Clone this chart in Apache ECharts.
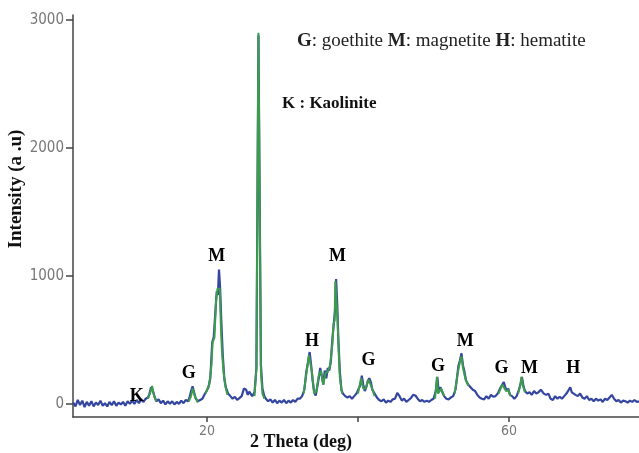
<!DOCTYPE html>
<html>
<head>
<meta charset="utf-8">
<script src="https://cdn.jsdelivr.net/npm/echarts@6/dist/echarts.min.js"></script>
<style>
html,body{margin:0;padding:0;background:#fff;}
#chart{width:639px;height:453px;}
</style>
</head>
<body>
<div id="chart"></div>
<script>
// Raw XRD scan (blue): 2-theta (deg) and intensity (a.u.)
const thetaRaw = [
 2.3,2.6,2.9,3.2,3.5,3.8,4.1,4.4,4.7,5.0,5.3,5.6,5.9,6.2,6.5,6.8,7.1,7.4,7.7,8.0,
 8.3,8.6,8.9,9.2,9.5,9.8,10.1,10.4,10.7,11.0,11.3,11.6,11.9,12.2,12.4,12.6,12.75,12.9,13.1,13.3,
 13.6,13.9,14.2,14.5,14.8,15.1,15.4,15.7,16.0,16.3,16.6,16.9,17.2,17.5,17.7,17.9,18.1,18.3,18.5,18.8,
 19.1,19.4,19.7,19.95,20.2,20.45,20.7,20.9,21.1,21.3,21.45,21.6,21.75,21.9,22.1,22.3,22.5,22.8,23.1,23.4,
 23.7,24.0,24.3,24.6,24.9,25.2,25.4,25.6,25.8,26.0,26.3,26.55,26.82,26.98,27.15,27.35,27.6,27.8,28.1,28.4,
 28.7,29.0,29.3,29.6,29.9,30.2,30.5,30.8,31.1,31.4,31.7,32.0,32.3,32.6,32.9,33.15,33.4,33.6,33.8,34.0,
 34.2,34.4,34.6,34.8,35.0,35.2,35.4,35.6,35.8,36.0,36.2,36.4,36.6,36.8,36.95,37.1,37.25,37.4,37.6,37.8,
 38.0,38.3,38.6,38.9,39.2,39.5,39.8,40.1,40.35,40.5,40.7,40.9,41.1,41.3,41.5,41.7,41.9,42.2,42.5,42.8,
 43.1,43.4,43.7,44.0,44.3,44.6,44.9,45.2,45.5,45.8,46.1,46.4,46.7,47.0,47.3,47.6,47.9,48.2,48.5,48.8,
 49.1,49.4,49.7,50.0,50.3,50.5,50.7,50.9,51.1,51.4,51.7,52.0,52.3,52.6,52.9,53.1,53.3,53.5,53.7,53.9,
 54.1,54.3,54.6,54.9,55.2,55.5,55.8,56.1,56.4,56.7,57.0,57.3,57.6,57.9,58.2,58.5,58.8,59.1,59.3,59.5,
 59.7,59.9,60.1,60.4,60.7,61.0,61.3,61.5,61.7,61.9,62.1,62.4,62.7,63.0,63.3,63.6,63.9,64.2,64.4,64.6,
 64.9,65.2,65.5,65.8,66.1,66.4,66.7,67.0,67.3,67.6,67.85,68.1,68.3,68.5,68.8,69.1,69.4,69.7,70.0,70.3,
 70.6,70.9,71.2,71.5,71.8,72.1,72.4,72.7,73.0,73.3,73.6,73.9,74.2,74.5,74.8,75.1,75.4,75.7,76.0,76.3,
 76.6,76.9,77.2
];
const intensityRaw = [
 10,-20,30,-10,25,-25,15,-15,20,-20,10,-10,25,-15,5,-20,15,-10,20,-15,
 10,-5,15,-15,20,0,25,0,30,5,35,15,40,50,80,130,145,90,50,20,
 35,5,25,-5,20,0,20,-5,15,0,25,5,30,20,50,100,137,90,45,20,
 30,40,75,100,130,200,480,520,700,880,850,1050,900,650,380,200,130,80,60,40,
 55,30,45,60,120,110,70,95,80,60,90,280,2880,2880,300,120,60,40,20,35,
 10,30,5,25,10,30,5,25,10,30,15,40,40,60,110,250,330,405,300,180,
 90,65,130,200,280,220,150,260,200,280,260,330,500,630,720,975,780,500,250,110,
 80,60,50,60,40,60,80,120,150,220,150,100,130,180,200,170,110,80,50,30,
 20,35,10,25,15,35,40,85,60,25,40,15,30,45,70,65,40,20,30,15,
 25,15,30,40,100,210,90,130,100,60,40,35,50,60,110,200,300,340,395,300,
 250,180,150,130,110,100,70,50,40,35,60,40,70,55,60,80,120,150,170,130,
 100,120,70,60,40,60,110,150,210,140,100,80,90,70,100,80,90,110,120,80,
 70,80,40,30,60,40,55,40,60,80,90,130,90,100,70,60,80,50,40,60,
 30,40,20,40,25,35,15,40,30,50,70,40,20,30,10,25,20,10,25,15,
 30,15,20
];

// Fitted profile (green), peak regions only; '-' breaks the line between peaks
const thetaFit = [
 12.2,12.5,12.75,13.0,13.3,'-',
 17.6,17.9,18.1,18.4,18.8,'-',
 19.8,20.3,20.6,20.75,21.0,21.2,21.4,21.55,21.7,21.85,22.0,22.2,22.4,22.7,'-',
 26.3,26.55,26.82,26.98,27.15,27.35,27.6,'-',
 32.8,33.2,33.5,33.7,33.9,34.2,34.5,34.8,35.1,35.4,35.7,36.0,36.3,36.6,36.75,36.9,37.0,37.15,37.3,37.45,37.6,37.9,'-',
 40.0,40.4,40.7,41.0,41.4,41.8,42.2,'-',
 50.2,50.45,50.6,51.0,51.4,'-',
 52.8,53.2,53.5,53.7,53.9,54.2,54.6,'-',
 58.6,59.1,59.3,59.6,59.9,60.2,'-',
 61.2,61.5,61.65,61.85,62.1
];
const intensityFit = [
 40,90,140,60,20,'-',
 20,60,120,60,10,'-',
 80,150,300,480,520,800,900,910,900,600,400,250,150,70,'-',
 60,280,2900,2900,250,80,40,'-',
 80,250,380,380,250,80,100,220,260,150,240,250,300,460,620,650,960,960,640,400,200,80,'-',
 80,200,120,120,190,130,60,'-',
 40,210,80,120,60,'-',
 80,240,330,370,280,200,140,'-',
 80,150,150,100,110,60,'-',
 80,150,210,140,90
];

// Phase labels placed above peaks
const peakTheta = [10.7, 17.6, 21.3, 33.9, 37.3, 41.4, 50.6, 54.2, 59.0, 62.7, 68.5];
const peakLabelY = [60, 240, 1150, 490, 1150, 340, 290, 490, 275, 275, 280];
const peakPhase = ['K','G','M','H','M','G','G','M','G','M','H'];

// Axis ticks
const xTicks = [20, 40, 60];
const xTickLabels = [20, 60];
const yTicks = [0, 1000, 2000, 3000];

const rawData = thetaRaw.map((t, i) => [t, intensityRaw[i]]);
const fitData = thetaFit.map((t, i) => (t === '-' ? ['-', '-'] : [t, intensityFit[i]]));
const labelData = peakTheta.map((t, i) => [t, peakLabelY[i], peakPhase[i]]);

const serif = '"Liberation Serif","DejaVu Serif",serif';
const narrow = '"Liberation Sans Narrow","DejaVu Sans Condensed","Liberation Sans",sans-serif';

const chart = echarts.init(document.getElementById('chart'), null, {renderer: 'canvas'});
chart.setOption({
  animation: false,
  backgroundColor: '#ffffff',
  grid: {left: 73, right: 0, top: 15, bottom: 36, containLabel: false, outerBoundsMode: 'none'},
  xAxis: {
    type: 'value',
    min: 2.27, max: 77.2,
    name: '2 Theta (deg)',
    nameLocation: 'middle',
    nameGap: 16,
    nameMoveOverlap: false,
    nameTextStyle: {fontFamily: serif, fontWeight: 'bold', fontSize: 18, color: '#111',
      padding: [0, 110, 0, 0]},
    axisLine: {show: true, onZero: false, lineStyle: {color: '#444', width: 1.5}},
    axisTick: {show: true, customValues: xTicks, length: 5, lineStyle: {color: '#444', width: 1.5}},
    axisLabel: {customValues: xTickLabels, fontFamily: narrow, fontSize: 14, color: '#777', margin: 7,
      formatter: v => String(v)},
    splitLine: {show: false}
  },
  yAxis: {
    type: 'value',
    min: -103, max: 3039,
    name: 'Intensity (a .u)',
    nameLocation: 'middle',
    nameRotate: 90,
    nameGap: 47,
    nameMoveOverlap: false,
    nameTextStyle: {fontFamily: serif, fontWeight: 'bold', fontSize: 19, color: '#111',
      padding: [0, 0, 0, 54]},
    axisLine: {show: true, onZero: false, lineStyle: {color: '#444', width: 1.5}},
    axisTick: {show: true, customValues: yTicks, length: 7, lineStyle: {color: '#444', width: 1.5}},
    axisLabel: {customValues: yTicks, fontFamily: narrow, fontSize: 15, color: '#777', margin: 9,
      formatter: v => String(v)},
    splitLine: {show: false}
  },
  series: [
    {
      type: 'line', data: rawData, showSymbol: false, z: 2,
      lineStyle: {color: '#3446a0', width: 2.2}
    },
    {
      type: 'line', data: fitData, showSymbol: false, connectNulls: false, z: 3,
      lineStyle: {color: '#3d9c4c', width: 2}
    },
    {
      type: 'scatter', data: labelData, symbolSize: 1, z: 4,
      itemStyle: {color: 'rgba(255,255,255,0)', opacity: 1},
      emphasis: {disabled: true},
      label: {
        show: true, position: 'inside', opacity: 1,
        formatter: p => p.data[2],
        fontFamily: serif, fontWeight: 'bold', fontSize: 18, color: '#000',
        textBorderWidth: 0, textBorderColor: 'transparent'
      }
    }
  ],
  graphic: [
    {
      type: 'text', left: 297, top: 32,
      style: {
        text: '{b|G}: goethite {b|M}: magnetite {b|H}: hematite',
        font: '19px ' + serif, fill: '#222',
        rich: {b: {fontFamily: serif, fontWeight: 'bold', fontSize: 19, fill: '#222'}}
      }
    },
    {
      type: 'text', left: 282, top: 95,
      style: {text: 'K : Kaolinite', font: 'bold 17px ' + serif, fill: '#111'}
    }
  ]
});
</script>
</body>
</html>
